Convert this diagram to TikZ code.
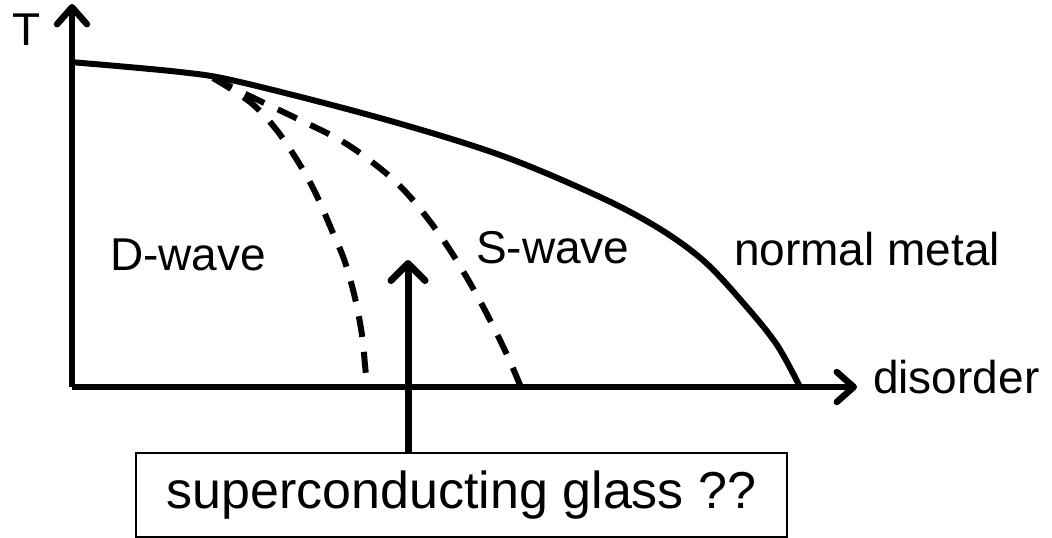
\documentclass[tikz,border=0pt]{standalone}
\usepackage{fontspec}
\setmainfont{Liberation Sans}
\usetikzlibrary{arrows.meta}
\begin{document}
\begin{tikzpicture}[x=1pt,y=-1pt,
  thick line/.style={line width=6.5pt},
  axisarrow/.style={thick line,-{Straight Barb[length=17pt,width=30pt,round]}},
  phaseline/.style={line width=6pt},
  dashline/.style={line width=6pt,dash pattern=on 21pt off 15pt},
  lbl/.style={anchor=base west,inner sep=0pt,font=\fontsize{46}{50}\selectfont},
  boxed/.style={draw,line width=2pt,minimum width=651pt,minimum height=84pt,inner sep=0pt,font=\fontsize{52}{56}\selectfont}
]
\useasboundingbox (0,0) rectangle (1052,538);
% axes
\coordinate (O) at (72,387);
\coordinate (ytip) at (72,4);
\coordinate (xtip) at (857,387);
\draw[axisarrow] (O) -- (ytip);
\draw[axisarrow] (O) -- (xtip);
% phase boundary
\draw[phaseline,line join=round] plot[smooth,tension=0.55] coordinates {
  (70,62) (180,72) (240,82) (380,118) (500,155) (600,197) (660,229)
  (705,262) (745,305) (777,345) (800,387)};
% dashed lines
\draw[dashline] plot[smooth,tension=0.6] coordinates {
  (213,78) (250,102) (275,128) (297,160) (315,192) (333,233) (345,262)
  (355,298) (362,335) (365,365) (367,385)};
\draw[dashline] plot[smooth,tension=0.6] coordinates {
  (213,78) (258,100) (300,120) (340,140) (372,162) (400,186) (425,215)
  (448,247) (470,283) (490,320) (508,357) (520,385)};
% labels
\node[lbl] (T) at (12,45) {T};
\node[lbl] (dwave) at (110,270) {D-wave};
\node[lbl] (swave) at (476,263) {S-wave};
\node[lbl] (normal) at (734,265) {normal metal};
\node[lbl] (disorder) at (873,393) {disorder};
% box and arrow
\node[boxed] (glass) at (461.5,495) {superconducting glass ??};
\coordinate (gtip) at (408,260);
\draw[line width=7pt,-{Straight Barb[length=17pt,width=34pt,round]}] (gtip |- glass.north) -- (gtip);
\end{tikzpicture}
\end{document}
